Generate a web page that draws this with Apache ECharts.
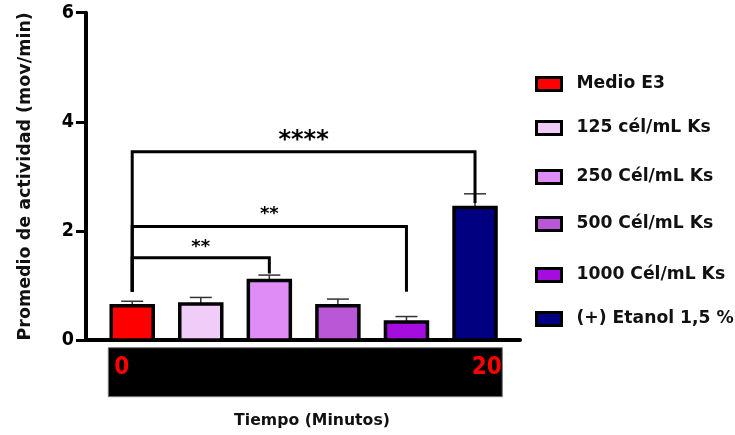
<!DOCTYPE html>
<html>
<head>
<meta charset="utf-8">
<script src="https://cdn.jsdelivr.net/npm/echarts@6/dist/echarts.min.js"></script>
<style>
  html, body { margin: 0; padding: 0; background: #fff; }
  #chart { width: 735px; height: 435px; }
</style>
</head>
<body>
<div id="chart"></div>
<script>
// Treatment groups, in plotting order
const groups = ['Medio E3', '125 cél/mL Ks', '250 Cél/mL Ks', '500 Cél/mL Ks', '1000 Cél/mL Ks', '(+) Etanol 1,5 %'];
// Mean activity (mov/min) and the upper end of each error bar
const means = [0.63, 0.66, 1.09, 0.63, 0.33, 2.43];
const upper = [0.71, 0.78, 1.19, 0.75, 0.43, 2.68];
const groupColors = ['#ff0000', '#f0cdf8', '#df8cf6', '#b957d7', '#a40ce0', '#000080'];
// Significance brackets: control (group 0) against another group
const sigFrom = [0, 0, 0];
const sigTo = [2, 4, 5];
const sigLevel = [1.51, 2.08, 3.45];
const sigLegEnd = [1.22, 0.885, 2.51];
const sigText = ['**', '**', '****'];
const controlLegEnd = 0.885;
// Time strip labels (minutes)
const timeLabels = ['0', '20'];

const boldWide = 'DejaVu Sans';
const narrow = '"Liberation Sans Narrow", "DejaVu Sans Condensed", "Liberation Sans", Arial, sans-serif';
const BAR_W = 42;

const chart = echarts.init(document.getElementById('chart'), null, { renderer: 'canvas' });

// Each group is one outlined column drawn on the shared value scale
const barSeries = groups.map((name, i) => ({
  name: name,
  type: 'custom',
  data: [[i, means[i]]],
  itemStyle: { color: groupColors[i] },
  z: 3,
  animation: false,
  renderItem: function (params, api) {
    const base = api.coord([api.value(0), 0]);
    const top = api.coord([api.value(0), api.value(1)]);
    return {
      type: 'rect',
      shape: { x: base[0] - BAR_W / 2, y: top[1], width: BAR_W, height: base[1] - top[1] },
      style: { fill: groupColors[i], stroke: '#000', lineWidth: 3.5 }
    };
  }
}));

const errorSeries = {
  type: 'custom',
  data: groups.map((g, i) => [i, means[i], upper[i]]),
  z: 2,
  silent: true,
  animation: false,
  renderItem: function (params, api) {
    const a = api.coord([api.value(0), api.value(1)]);
    const b = api.coord([api.value(0), api.value(2)]);
    return {
      type: 'group',
      children: [
        { type: 'line', shape: { x1: a[0], y1: a[1], x2: b[0], y2: b[1] }, style: { stroke: '#333', lineWidth: 1.5 } },
        { type: 'line', shape: { x1: b[0] - 11, y1: b[1], x2: b[0] + 11, y2: b[1] }, style: { stroke: '#333', lineWidth: 1.5 } }
      ]
    };
  }
};

const labelLift = [10, 12, 11];
const starSize = [18, 18, 24];
const bracketSeries = {
  type: 'custom',
  data: sigFrom.map((f, k) => [f, sigTo[k], sigLevel[k], sigLegEnd[k], k]),
  z: 5,
  silent: true,
  clip: false,
  animation: false,
  renderItem: function (params, api) {
    const k = api.value(4);
    const pl = api.coord([api.value(0), controlLegEnd]);
    const tl = api.coord([api.value(0), api.value(2)]);
    const tr = api.coord([api.value(1), api.value(2)]);
    const pr = api.coord([api.value(1), api.value(3)]);
    const mid = (tl[0] + tr[0]) / 2;
    return {
      type: 'group',
      children: [
        { type: 'polyline', shape: { points: [pl, tl, tr, pr] }, style: { stroke: '#000', lineWidth: 3, fill: null } },
        { type: 'text', x: mid, y: tl[1] - labelLift[k],
          style: { text: sigText[k], fill: '#000', font: 'bold ' + starSize[k] + 'px ' + boldWide, align: 'center', verticalAlign: 'middle' } }
      ]
    };
  }
};

const rowCenters = [84, 128, 177, 224, 275, 319];
const legends = groups.map((name, i) => ({
  data: [name],
  orient: 'vertical',
  left: 530,
  top: rowCenters[i] - 13.5,
  icon: 'rect',
  itemWidth: 25,
  itemHeight: 13,
  selectedMode: false,
  itemStyle: { color: groupColors[i], borderColor: '#000', borderWidth: 3 },
  textStyle: { fontFamily: boldWide, fontWeight: 'bold', fontSize: 17.2, color: '#111', padding: [0, 0, 0, 10] }
}));

chart.setOption({
  backgroundColor: '#fff',
  animation: false,
  grid: { left: 86, right: 215, top: 12.7, bottom: 95 },
  legend: legends,
  xAxis: {
    type: 'value',
    min: -0.674,
    max: 5.656,
    axisLine: { show: true, onZero: false, lineStyle: { color: '#000', width: 4 } },
    axisTick: { show: false },
    axisLabel: { show: false },
    splitLine: { show: false }
  },
  yAxis: {
    type: 'value',
    min: 0,
    max: 6,
    interval: 2,
    name: 'Promedio de actividad (mov/min)',
    nameLocation: 'middle',
    nameGap: 52,
    nameTextStyle: { fontFamily: boldWide, fontWeight: 'bold', fontSize: 17.5, color: '#111' },
    axisLine: { show: true, onZero: false, lineStyle: { color: '#000', width: 4 } },
    axisTick: { show: true, length: 10, lineStyle: { color: '#000', width: 3 } },
    axisLabel: { margin: 12, fontFamily: narrow, fontWeight: 'bold', fontSize: 19.5, color: '#000' },
    splitLine: { show: false }
  },
  graphic: [
    { type: 'rect', shape: { x: 108.3, y: 347.7, width: 394, height: 49 }, style: { fill: '#000', stroke: '#777', lineWidth: 1 } },
    { type: 'text', x: 121.7, y: 368, style: { text: timeLabels[0], fill: '#ff0000', font: 'bold 24px ' + narrow, align: 'center', verticalAlign: 'middle' } },
    { type: 'text', x: 486.7, y: 368, style: { text: timeLabels[1], fill: '#ff0000', font: 'bold 24px ' + narrow, align: 'center', verticalAlign: 'middle' } },
    { type: 'text', x: 312, y: 421, style: { text: 'Tiempo (Minutos)', fill: '#111', font: 'bold 15.7px ' + boldWide, align: 'center', verticalAlign: 'middle' } }
  ],
  series: [errorSeries].concat(barSeries, [bracketSeries])
});
</script>
</body>
</html>
